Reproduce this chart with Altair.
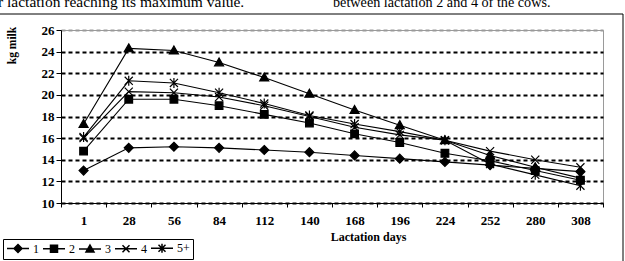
import altair as alt
import pandas as pd

# ---- data ----
days = [1, 28, 56, 84, 112, 140, 168, 196, 224, 252, 280, 308]
series_names = ["1", "2", "3", "4", "5+"]
lact1 = [13.0, 15.1, 15.2, 15.1, 14.9, 14.7, 14.4, 14.1, 13.8, 13.5, 13.2, 12.9]
lact2 = [14.8, 19.6, 19.6, 19.0, 18.2, 17.4, 16.4, 15.6, 14.6, 13.9, 13.0, 12.1]
lact3 = [17.3, 24.3, 24.1, 23.0, 21.6, 20.1, 18.6, 17.2, 15.8, 14.4, 13.3, 12.3]
lact4 = [16.0, 20.3, 20.2, 19.8, 19.0, 18.0, 17.0, 16.3, 15.8, 14.8, 14.0, 13.3]
lact5 = [16.1, 21.3, 21.1, 20.2, 19.2, 18.1, 17.3, 16.6, 15.8, 13.6, 12.6, 11.6]
y_ticks = [10, 12, 14, 16, 18, 20, 22, 24, 26]
page_text = ["r lactation reaching its maximum value.", "between lactation 2 and 4 of the cows."]

# ---- marker shapes (SVG paths in the unit square) ----
marker_paths = [
    "M0,-1L1,0L0,1L-1,0Z",
    "M-0.85,-0.85L0.85,-0.85L0.85,0.85L-0.85,0.85Z",
    "M0,-1L1,0.75L-1,0.75Z",
    "M-0.9,-0.9L0.9,0.9M-0.9,0.9L0.9,-0.9",
    "M-0.9,-0.9L0.9,0.9M-0.9,0.9L0.9,-0.9M0,-1.1L0,1.1",
]
legend_paths = [
    "M-2.2,0L2.2,0M0,-0.8L0.8,0L0,0.8L-0.8,0Z",
    "M-2.2,0L2.2,0M-0.7,-0.7L0.7,-0.7L0.7,0.7L-0.7,0.7Z",
    "M-2.2,0L2.2,0M0,-0.8L0.8,0.6L-0.8,0.6Z",
    "M-2.2,0L2.2,0M-0.7,-0.7L0.7,0.7M-0.7,0.7L0.7,-0.7",
    "M-2.2,0L2.2,0M-0.7,-0.7L0.7,0.7M-0.7,0.7L0.7,-0.7M0,-0.9L0,0.9",
]

rows = []
for name, vals in zip(series_names, [lact1, lact2, lact3, lact4, lact5]):
    for d, v in zip(days, vals):
        rows.append({"day": d, "value": v, "series": name})
df = pd.DataFrame(rows)

FONT = "Liberation Serif"

x_scale = alt.Scale(type="band", paddingInner=0, paddingOuter=0)
y_scale = alt.Scale(domain=[10, 26], nice=False, zero=False)

x_axis = alt.Axis(
    title="Lactation days",
    labelAngle=0,
    tickBand="extent",
    grid=False,
    labelFont=FONT,
    labelFontSize=13,
    labelFontWeight="bold",
    labelColor="black",
    labelPadding=7,
    tickSize=4,
    tickColor="black",
    domainColor="black",
    titleFont=FONT,
    titleFontSize=12,
    titleFontWeight="bold",
    titleColor="black",
    titlePadding=4,
    titleX=307,
    titleAlign="center",
)
y_axis = alt.Axis(
    title="kg milk",
    values=y_ticks,
    labelOverlap=False,
    grid=True,
    gridColor={"condition": {"test": "datum.value === 26", "value": "#9a9a9a"}, "value": "black"},
    gridDash=[4, 3],
    gridWidth=2,
    labelFont=FONT,
    labelFontSize=13,
    labelFontWeight="bold",
    labelColor="black",
    labelPadding=2,
    tickSize=5,
    tickColor="black",
    domainColor="black",
    titleFont=FONT,
    titleFontSize=11.5,
    titleFontWeight="bold",
    titleColor="black",
    titleAngle=-90,
    titleX=-49,
    titleY=15,
    titleAlign="center",
    titleBaseline="middle",
)

base = alt.Chart(df)

lines = base.mark_line(color="black", strokeWidth=1.1).encode(
    x=alt.X("day:O", sort=days, scale=x_scale, axis=x_axis),
    y=alt.Y("value:Q", scale=y_scale, axis=y_axis),
    detail="series:N",
)

points = base.mark_point(
    filled=True, fill="black", stroke="black", strokeWidth=1.2, size=81, opacity=1
).encode(
    x=alt.X("day:O", sort=days, scale=x_scale, axis=x_axis),
    y=alt.Y("value:Q", scale=y_scale, axis=y_axis),
    shape=alt.Shape(
        "series:N",
        scale=alt.Scale(domain=series_names, range=marker_paths),
        legend=None,
    ),
)

legend_layer = base.transform_calculate(lo="0").mark_point(
    filled=False, fill="black", stroke="black", strokeWidth=1.2, opacity=1, clip=True
).encode(
    x=alt.X("day:O", sort=days, scale=x_scale, axis=x_axis),
    y=alt.Y("lo:Q", scale=y_scale, axis=y_axis),
    shape=alt.Shape(
        "series:N",
        scale=alt.Scale(domain=series_names, range=legend_paths),
        legend=alt.Legend(
            title=None,
            orient="none",
            legendX=-58,
            legendY=209,
            direction="horizontal",
            strokeColor="black",
            fillColor="white",
            padding=3,
            symbolSize=100,
            symbolOffset=6,
            labelOffset=9,
            columnPadding=1,
            labelFont=FONT,
            labelFontSize=12,
            labelColor="black",
        ),
    ),
)

frame_df = pd.DataFrame({"k": [0]})
frame = alt.Chart(frame_df).mark_rect(
    fill="transparent", stroke="black", strokeWidth=1
).encode(
    x=alt.value(-70), x2=alt.value(562), y=alt.value(-16), y2=alt.value(250)
)

text_df = pd.DataFrame({"t": page_text, "px": [-63, 272], "fs": [15.5, 14.2]})
texts = alt.Chart(text_df).mark_text(
    font=FONT, align="left", baseline="alphabetic", color="black"
).encode(
    x=alt.X("px:Q", scale=None),
    y=alt.value(-23),
    text="t:N",
    size=alt.Size("fs:Q", scale=None, legend=None),
)

chart = (
    alt.layer(frame, texts, lines, points, legend_layer)
    .resolve_scale(shape="independent")
    .properties(
        width=542,
        height=173,
        autosize=alt.AutoSizeParams(type="none"),
        padding={"left": 61, "top": 30, "right": 22, "bottom": 58},
        background="white",
    )
    .configure_view(stroke="#9a9a9a", strokeWidth=1)
)

chart.save("out.html", embed_options={"renderer": "svg", "actions": False})
